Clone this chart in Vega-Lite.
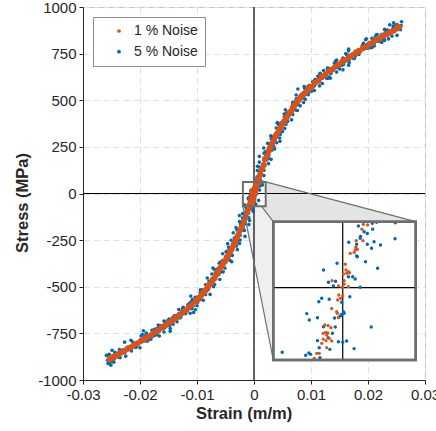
{
"$schema":"https://vega.github.io/schema/vega-lite/v6.json",
"width":342,"height":373,
"autosize":{"type":"none"},
"padding":{"left":83,"top":7,"right":11,"bottom":51},
"config":{
"font":"Liberation Sans",
"view":{"stroke":"#bdbdbd","strokeWidth":1},
"axis":{"labelFont":"Liberation Sans","labelFontSize":15,"labelColor":"#262626","titleFont":"Liberation Sans","titleFontSize":16.5,"titleFontWeight":"bold","titleColor":"#262626","domainColor":"#262626","tickColor":"#262626","tickSize":4,"grid":true,"gridColor":"#d5e1ee","gridDash":[6,4],"gridWidth":1,"labelPadding":3,"labelOverlap":false,"labelFlush":false}
},
"datasets":{
"faceTop":[{"k":1,"e":0.00205,"p":62},{"k":2,"e":0.028368,"p":-151.2},{"k":3,"e":0.003386,"p":-151.2},{"k":4,"e":0.001304,"p":-68},{"k":5,"e":0.00205,"p":-68}],
"faceLeft":[{"k":1,"e":-0.00195,"p":-68},{"k":2,"e":0.001304,"p":-68},{"k":3,"e":0.003386,"p":-151.2},{"k":4,"e":0.003386,"p":-892.8}],
"edges":[{"e":0.00205,"p":62,"e2":0.028368,"p2":-151.2},{"e":0.001304,"p":-68,"e2":0.003386,"p2":-151.2},{"e":-0.00195,"p":-68,"e2":0.003386,"p2":-892.8}],
"box":[{"e":-0.00195,"e2":0.00205,"p":-68,"p2":62}],
"zero":[{"e":0,"p":0}],
"cross":[{"e":0,"e2":0,"p":-68,"p2":62},{"e":-0.00195,"e2":0.00205,"p":0,"p2":0}],
"pts":[
{"n":5,"e":0.00086,"p":79},{"n":5,"e":0.00056,"p":89},{"n":5,"e":0.00123,"p":105},{"n":5,"e":0.00058,"p":123},{"n":5,"e":0.00147,"p":130},{"n":5,"e":0.0006,"p":146},{"n":5,"e":0.00256,"p":160},{"n":5,"e":0.00172,"p":178},{"n":5,"e":0.00258,"p":186},{"n":5,"e":0.00094,"p":199},{"n":5,"e":0.0025,"p":208},{"n":5,"e":0.00196,"p":224},{"n":5,"e":0.00362,"p":239},{"n":5,"e":0.00258,"p":247},{"n":5,"e":0.00344,"p":254},{"n":5,"e":0.0024,"p":269},{"n":5,"e":0.00456,"p":280},{"n":5,"e":0.00302,"p":294},{"n":5,"e":0.00388,"p":300},{"n":5,"e":0.00294,"p":309},{"n":5,"e":0.0046,"p":316},
{"n":5,"e":0.00058,"p":86},{"n":5,"e":0.00174,"p":96},{"n":5,"e":0.0011,"p":115},{"n":5,"e":0.00176,"p":124},{"n":5,"e":0.00092,"p":142},{"n":5,"e":0.00188,"p":150},{"n":5,"e":0.00094,"p":168},{"n":5,"e":0.003,"p":183},{"n":5,"e":0.00176,"p":190},{"n":5,"e":0.00262,"p":207},{"n":5,"e":0.00178,"p":216},{"n":5,"e":0.00314,"p":232},{"n":5,"e":0.0017,"p":244},{"n":5,"e":0.00306,"p":250},{"n":5,"e":0.00272,"p":266},{"n":5,"e":0.00398,"p":272},{"n":5,"e":0.00324,"p":288},{"n":5,"e":0.0045,"p":297},{"n":5,"e":0.00316,"p":302},{"n":5,"e":0.00422,"p":317},
{"n":5,"e":0.0045,"p":324},{"n":5,"e":0.0039,"p":351},{"n":5,"e":0.0054,"p":349},{"n":5,"e":0.0047,"p":378},{"n":5,"e":0.0041,"p":377},{"n":5,"e":0.0056,"p":371},{"n":5,"e":0.0066,"p":395},{"n":5,"e":0.0053,"p":411},{"n":5,"e":0.0058,"p":394},{"n":5,"e":0.0053,"p":426},{"n":5,"e":0.0068,"p":423},{"n":5,"e":0.0066,"p":459},{"n":5,"e":0.0055,"p":449},{"n":5,"e":0.0073,"p":448},{"n":5,"e":0.0068,"p":478},{"n":5,"e":0.0081,"p":470},{"n":5,"e":0.0068,"p":489},{"n":5,"e":0.0077,"p":476},{"n":5,"e":0.0074,"p":508},{"n":5,"e":0.009,"p":505},{"n":5,"e":0.0074,"p":528},{"n":5,"e":0.0087,"p":511},{"n":5,"e":0.0085,"p":531},{"n":5,"e":0.0095,"p":530},{"n":5,"e":0.0077,"p":560},{"n":5,"e":0.0096,"p":540},{"n":5,"e":0.0089,"p":565},{"n":5,"e":0.0098,"p":559},{"n":5,"e":0.0106,"p":552},{"n":5,"e":0.0097,"p":579},{"n":5,"e":0.0095,"p":575},{"n":5,"e":0.0115,"p":599},{"n":5,"e":0.0106,"p":578},{"n":5,"e":0.0106,"p":598},{"n":5,"e":0.0115,"p":609},{"n":5,"e":0.0103,"p":599},{"n":5,"e":0.012,"p":590},{"n":5,"e":0.0112,"p":629},{"n":5,"e":0.0119,"p":623},{"n":5,"e":0.0134,"p":618},{"n":5,"e":0.0116,"p":641},{"n":5,"e":0.0127,"p":619},{"n":5,"e":0.0116,"p":645},{"n":5,"e":0.0135,"p":643},{"n":5,"e":0.0129,"p":672},{"n":5,"e":0.0134,"p":646},{"n":5,"e":0.0129,"p":665},{"n":5,"e":0.0145,"p":651},{"n":5,"e":0.013,"p":671},{"n":5,"e":0.0144,"p":685},{"n":5,"e":0.0139,"p":672},{"n":5,"e":0.0156,"p":663},{"n":5,"e":0.0144,"p":694},{"n":5,"e":0.0154,"p":687},{"n":5,"e":0.0143,"p":710},{"n":5,"e":0.0152,"p":700},{"n":5,"e":0.0157,"p":692},{"n":5,"e":0.0145,"p":715},{"n":5,"e":0.0166,"p":688},{"n":5,"e":0.0156,"p":726},{"n":5,"e":0.0167,"p":717},{"n":5,"e":0.0163,"p":742},{"n":5,"e":0.016,"p":722},{"n":5,"e":0.0178,"p":737},{"n":5,"e":0.0161,"p":750},{"n":5,"e":0.0174,"p":725},{"n":5,"e":0.0181,"p":751},{"n":5,"e":0.0173,"p":748},{"n":5,"e":0.0166,"p":774},{"n":5,"e":0.0184,"p":745},{"n":5,"e":0.0183,"p":770},{"n":5,"e":0.0179,"p":759},{"n":5,"e":0.0195,"p":785},{"n":5,"e":0.0186,"p":763},{"n":5,"e":0.0196,"p":779},{"n":5,"e":0.0184,"p":758},{"n":5,"e":0.0197,"p":795},{"n":5,"e":0.0207,"p":783},{"n":5,"e":0.0192,"p":805},{"n":5,"e":0.02,"p":803},{"n":5,"e":0.0198,"p":784},{"n":5,"e":0.0211,"p":804},{"n":5,"e":0.0196,"p":825},{"n":5,"e":0.021,"p":799},{"n":5,"e":0.0215,"p":818},{"n":5,"e":0.0211,"p":791},{"n":5,"e":0.0207,"p":832},{"n":5,"e":0.0229,"p":821},{"n":5,"e":0.0215,"p":851},{"n":5,"e":0.0224,"p":823},{"n":5,"e":0.0213,"p":841},{"n":5,"e":0.0232,"p":854},{"n":5,"e":0.0227,"p":829},{"n":5,"e":0.0223,"p":849},{"n":5,"e":0.0236,"p":829},{"n":5,"e":0.023,"p":861},{"n":5,"e":0.0244,"p":884},{"n":5,"e":0.0225,"p":848},{"n":5,"e":0.0241,"p":864},{"n":5,"e":0.0234,"p":849},{"n":5,"e":0.0249,"p":877},{"n":5,"e":0.0244,"p":898},{"n":5,"e":0.0242,"p":871},{"n":5,"e":0.0257,"p":893},{"n":5,"e":0.0242,"p":863},{"n":5,"e":0.0254,"p":890},{"n":5,"e":0.0259,"p":921},{"n":5,"e":0.0253,"p":880},{"n":5,"e":0.0245,"p":915},{"n":5,"e":0.0238,"p":905},{"n":5,"e":0.0251,"p":906},{"n":5,"e":0.0229,"p":880},{"n":5,"e":0.0257,"p":878},
{"n":5,"e":0.005,"p":332},{"n":5,"e":0.0044,"p":366},{"n":5,"e":0.0041,"p":381},{"n":5,"e":0.0059,"p":387},{"n":5,"e":0.006,"p":430},{"n":5,"e":0.0057,"p":433},{"n":5,"e":0.0076,"p":445},{"n":5,"e":0.0069,"p":476},{"n":5,"e":0.0087,"p":488},{"n":5,"e":0.0071,"p":490},{"n":5,"e":0.0086,"p":528},{"n":5,"e":0.0082,"p":527},{"n":5,"e":0.0091,"p":562},{"n":5,"e":0.0101,"p":548},{"n":5,"e":0.0088,"p":573},{"n":5,"e":0.0105,"p":579},{"n":5,"e":0.0115,"p":577},{"n":5,"e":0.0107,"p":611},{"n":5,"e":0.0114,"p":625},{"n":5,"e":0.0129,"p":617},{"n":5,"e":0.0116,"p":636},{"n":5,"e":0.0132,"p":624},{"n":5,"e":0.0122,"p":659},{"n":5,"e":0.0138,"p":672},{"n":5,"e":0.015,"p":668},{"n":5,"e":0.014,"p":664},{"n":5,"e":0.0141,"p":700},{"n":5,"e":0.0148,"p":678},{"n":5,"e":0.0158,"p":702},{"n":5,"e":0.0143,"p":699},{"n":5,"e":0.0167,"p":701},{"n":5,"e":0.0165,"p":743},{"n":5,"e":0.0176,"p":724},{"n":5,"e":0.0166,"p":765},{"n":5,"e":0.0175,"p":735},{"n":5,"e":0.0185,"p":761},{"n":5,"e":0.0175,"p":746},{"n":5,"e":0.02,"p":779},{"n":5,"e":0.019,"p":793},{"n":5,"e":0.0191,"p":789},{"n":5,"e":0.0205,"p":782},{"n":5,"e":0.0197,"p":830},{"n":5,"e":0.0219,"p":815},{"n":5,"e":0.0212,"p":825},{"n":5,"e":0.0224,"p":810},{"n":5,"e":0.0216,"p":852},{"n":5,"e":0.0228,"p":832},{"n":5,"e":0.0241,"p":871},{"n":5,"e":0.0225,"p":853},{"n":5,"e":0.0242,"p":844},{"n":5,"e":0.0234,"p":876},{"n":5,"e":0.0251,"p":848},{"n":5,"e":0.0249,"p":902},{"n":5,"e":0.0258,"p":900},
{"n":5,"e":-0.00138,"p":-75},{"n":5,"e":-0.00026,"p":-86},{"n":5,"e":-0.00124,"p":-86},{"n":5,"e":-0.00012,"p":-96},{"n":5,"e":-0.002,"p":-108},{"n":5,"e":-0.00098,"p":-106},{"n":5,"e":-0.00256,"p":-118},{"n":5,"e":-0.00134,"p":-117},{"n":5,"e":-0.00092,"p":-130},{"n":5,"e":-0.002,"p":-130},{"n":5,"e":-0.00078,"p":-145},{"n":5,"e":-0.00186,"p":-146},{"n":5,"e":-0.00254,"p":-151},{"n":5,"e":-0.00152,"p":-162},{"n":5,"e":-0.0009,"p":-166},{"n":5,"e":-0.00238,"p":-167},{"n":5,"e":-0.00196,"p":-180},{"n":5,"e":-0.00314,"p":-182},{"n":5,"e":-0.00182,"p":-196},{"n":5,"e":-0.003,"p":-196},{"n":5,"e":-0.00168,"p":-198},{"n":5,"e":-0.00256,"p":-209},{"n":5,"e":-0.00364,"p":-211},{"n":5,"e":-0.00242,"p":-224},{"n":5,"e":-0.003,"p":-224},{"n":5,"e":-0.00158,"p":-230},{"n":5,"e":-0.00346,"p":-239},{"n":5,"e":-0.00294,"p":-237},{"n":5,"e":-0.00242,"p":-249},{"n":5,"e":-0.004,"p":-251},{"n":5,"e":-0.00288,"p":-255},{"n":5,"e":-0.00366,"p":-268},{"n":5,"e":-0.00254,"p":-268},{"n":5,"e":-0.00462,"p":-269},{"n":5,"e":-0.0034,"p":-279},{"n":5,"e":-0.00308,"p":-281},{"n":5,"e":-0.00386,"p":-291},{"n":5,"e":-0.00444,"p":-287},{"n":5,"e":-0.00292,"p":-301},{"n":5,"e":-0.0044,"p":-301},
{"n":5,"e":-0.0046,"p":-308},{"n":5,"e":-0.0038,"p":-332},{"n":5,"e":-0.0055,"p":-323},{"n":5,"e":-0.0046,"p":-349},{"n":5,"e":-0.0039,"p":-366},{"n":5,"e":-0.0055,"p":-359},{"n":5,"e":-0.0061,"p":-374},{"n":5,"e":-0.0051,"p":-400},{"n":5,"e":-0.0058,"p":-386},{"n":5,"e":-0.0072,"p":-400},{"n":5,"e":-0.0054,"p":-420},{"n":5,"e":-0.0065,"p":-407},{"n":5,"e":-0.0062,"p":-435},{"n":5,"e":-0.0074,"p":-432},{"n":5,"e":-0.006,"p":-461},{"n":5,"e":-0.0074,"p":-458},{"n":5,"e":-0.0082,"p":-453},{"n":5,"e":-0.0073,"p":-485},{"n":5,"e":-0.0071,"p":-500},{"n":5,"e":-0.0085,"p":-489},{"n":5,"e":-0.0081,"p":-504},{"n":5,"e":-0.0094,"p":-529},{"n":5,"e":-0.008,"p":-515},{"n":5,"e":-0.0091,"p":-516},{"n":5,"e":-0.0077,"p":-541},{"n":5,"e":-0.0096,"p":-563},{"n":5,"e":-0.0092,"p":-541},{"n":5,"e":-0.0103,"p":-556},{"n":5,"e":-0.0089,"p":-572},{"n":5,"e":-0.01,"p":-557},{"n":5,"e":-0.0113,"p":-589},{"n":5,"e":-0.0099,"p":-579},{"n":5,"e":-0.0108,"p":-569},{"n":5,"e":-0.01,"p":-602},{"n":5,"e":-0.0116,"p":-597},{"n":5,"e":-0.0109,"p":-618},{"n":5,"e":-0.0115,"p":-601},{"n":5,"e":-0.0125,"p":-617},{"n":5,"e":-0.0106,"p":-638},{"n":5,"e":-0.0124,"p":-614},{"n":5,"e":-0.0116,"p":-625},{"n":5,"e":-0.0127,"p":-640},{"n":5,"e":-0.0125,"p":-619},{"n":5,"e":-0.0136,"p":-655},{"n":5,"e":-0.012,"p":-645},{"n":5,"e":-0.0137,"p":-670},{"n":5,"e":-0.0132,"p":-645},{"n":5,"e":-0.0129,"p":-666},{"n":5,"e":-0.015,"p":-690},{"n":5,"e":-0.0136,"p":-665},{"n":5,"e":-0.0143,"p":-666},{"n":5,"e":-0.0135,"p":-688},{"n":5,"e":-0.0152,"p":-683},{"n":5,"e":-0.0148,"p":-709},{"n":5,"e":-0.0145,"p":-679},{"n":5,"e":-0.0162,"p":-708},{"n":5,"e":-0.0151,"p":-702},{"n":5,"e":-0.0158,"p":-684},{"n":5,"e":-0.0147,"p":-724},{"n":5,"e":-0.0167,"p":-709},{"n":5,"e":-0.0158,"p":-723},{"n":5,"e":-0.0168,"p":-705},{"n":5,"e":-0.0158,"p":-743},{"n":5,"e":-0.0169,"p":-723},{"n":5,"e":-0.0179,"p":-733},{"n":5,"e":-0.0166,"p":-764},{"n":5,"e":-0.0172,"p":-732},{"n":5,"e":-0.0189,"p":-754},{"n":5,"e":-0.0173,"p":-727},{"n":5,"e":-0.0183,"p":-765},{"n":5,"e":-0.0175,"p":-763},{"n":5,"e":-0.0189,"p":-748},{"n":5,"e":-0.0186,"p":-788},{"n":5,"e":-0.0178,"p":-766},{"n":5,"e":-0.0198,"p":-764},{"n":5,"e":-0.0189,"p":-791},{"n":5,"e":-0.0196,"p":-756},{"n":5,"e":-0.0187,"p":-791},{"n":5,"e":-0.0204,"p":-807},{"n":5,"e":-0.0199,"p":-786},{"n":5,"e":-0.0213,"p":-796},{"n":5,"e":-0.02,"p":-827},{"n":5,"e":-0.02,"p":-791},{"n":5,"e":-0.0211,"p":-802},{"n":5,"e":-0.0217,"p":-831},{"n":5,"e":-0.02,"p":-795},{"n":5,"e":-0.0215,"p":-826},{"n":5,"e":-0.0214,"p":-823},{"n":5,"e":-0.0227,"p":-797},{"n":5,"e":-0.0215,"p":-844},{"n":5,"e":-0.0226,"p":-844},{"n":5,"e":-0.0216,"p":-820},{"n":5,"e":-0.0236,"p":-837},{"n":5,"e":-0.0225,"p":-872},{"n":5,"e":-0.023,"p":-838},{"n":5,"e":-0.0238,"p":-855},{"n":5,"e":-0.0223,"p":-831},{"n":5,"e":-0.0238,"p":-874},{"n":5,"e":-0.0234,"p":-855},{"n":5,"e":-0.0248,"p":-887},{"n":5,"e":-0.0235,"p":-856},{"n":5,"e":-0.0249,"p":-841},{"n":5,"e":-0.0245,"p":-887},{"n":5,"e":-0.0239,"p":-876},{"n":5,"e":-0.0253,"p":-908},{"n":5,"e":-0.0259,"p":-868},{"n":5,"e":-0.0248,"p":-898},{"n":5,"e":-0.0257,"p":-867},{"n":5,"e":-0.0256,"p":-912},{"n":5,"e":-0.0251,"p":-921},{"n":5,"e":-0.0246,"p":-905},
{"n":5,"e":-0.0049,"p":-313},{"n":5,"e":-0.0045,"p":-350},{"n":5,"e":-0.0042,"p":-359},{"n":5,"e":-0.0059,"p":-368},{"n":5,"e":-0.007,"p":-406},{"n":5,"e":-0.0058,"p":-422},{"n":5,"e":-0.0067,"p":-423},{"n":5,"e":-0.0079,"p":-469},{"n":5,"e":-0.0072,"p":-467},{"n":5,"e":-0.0069,"p":-488},{"n":5,"e":-0.0085,"p":-526},{"n":5,"e":-0.0094,"p":-516},{"n":5,"e":-0.0085,"p":-542},{"n":5,"e":-0.0094,"p":-568},{"n":5,"e":-0.0111,"p":-550},{"n":5,"e":-0.0099,"p":-585},{"n":5,"e":-0.011,"p":-581},{"n":5,"e":-0.0103,"p":-623},{"n":5,"e":-0.0124,"p":-610},{"n":5,"e":-0.0117,"p":-616},{"n":5,"e":-0.0112,"p":-642},{"n":5,"e":-0.0132,"p":-622},{"n":5,"e":-0.0132,"p":-667},{"n":5,"e":-0.0128,"p":-657},{"n":5,"e":-0.0149,"p":-673},{"n":5,"e":-0.014,"p":-656},{"n":5,"e":-0.0142,"p":-701},{"n":5,"e":-0.0157,"p":-703},{"n":5,"e":-0.0155,"p":-690},{"n":5,"e":-0.0147,"p":-739},{"n":5,"e":-0.0167,"p":-712},{"n":5,"e":-0.0175,"p":-729},{"n":5,"e":-0.017,"p":-758},{"n":5,"e":-0.0166,"p":-733},{"n":5,"e":-0.0181,"p":-763},{"n":5,"e":-0.0194,"p":-736},{"n":5,"e":-0.0181,"p":-781},{"n":5,"e":-0.0194,"p":-782},{"n":5,"e":-0.0191,"p":-766},{"n":5,"e":-0.0206,"p":-816},{"n":5,"e":-0.0193,"p":-791},{"n":5,"e":-0.0208,"p":-824},{"n":5,"e":-0.0216,"p":-787},{"n":5,"e":-0.0207,"p":-825},{"n":5,"e":-0.0232,"p":-856},{"n":5,"e":-0.0221,"p":-824},{"n":5,"e":-0.0221,"p":-826},{"n":5,"e":-0.0235,"p":-881},{"n":5,"e":-0.0244,"p":-851},{"n":5,"e":-0.0236,"p":-878},{"n":5,"e":-0.0236,"p":-846},{"n":5,"e":-0.0249,"p":-900},{"n":5,"e":-0.0257,"p":-894},{"n":5,"e":-0.0254,"p":-862},
{"n":5,"e":0.0003,"p":69},{"n":5,"e":0.0011,"p":73},{"n":5,"e":-0.0013,"p":-71},{"n":5,"e":-0.0004,"p":-74},
{"n":5,"e":0.00044,"p":58},{"n":5,"e":0.00083,"p":60.5},{"n":5,"e":0.00095,"p":61.4},{"n":5,"e":0.00148,"p":61},{"n":5,"e":0.0006,"p":52.6},{"n":5,"e":0.00084,"p":55},{"n":5,"e":0.00069,"p":51},{"n":5,"e":0.0005,"p":48},{"n":5,"e":0.00049,"p":46.4},{"n":5,"e":0.00017,"p":42.6},{"n":5,"e":0.00039,"p":40.7},{"n":5,"e":0.00069,"p":40.7},{"n":5,"e":0.00088,"p":43.2},{"n":5,"e":0.00106,"p":40.1},{"n":5,"e":0.00081,"p":37},{"n":5,"e":0.00147,"p":46},{"n":5,"e":0.00039,"p":29.8},{"n":5,"e":0.00041,"p":29},{"n":5,"e":0.00064,"p":24.4},{"n":5,"e":-0.00016,"p":23},{"n":5,"e":-0.00054,"p":16.6},{"n":5,"e":0.00098,"p":18.2},{"n":5,"e":0.00016,"p":10.3},{"n":5,"e":0.00028,"p":10.3},{"n":5,"e":0.00035,"p":8.1},{"n":5,"e":-0.0002,"p":6},{"n":5,"e":-0.0004,"p":5},{"n":5,"e":-0.00026,"p":1.6},{"n":5,"e":0.00049,"p":0.3},{"n":5,"e":-0.00038,"p":-11},{"n":5,"e":-0.00059,"p":-10},{"n":5,"e":-0.00067,"p":-13.2},{"n":5,"e":0.0002,"p":-8.5},{"n":5,"e":-0.00003,"p":-13.8},{"n":5,"e":-0.00101,"p":-24.4},{"n":5,"e":-0.00094,"p":-30.4},{"n":5,"e":-0.00071,"p":-28.2},{"n":5,"e":0.00002,"p":-22.6},{"n":5,"e":0.00004,"p":-24.1},{"n":5,"e":-0.00003,"p":-25.1},{"n":5,"e":-0.00006,"p":-26.3},{"n":5,"e":-0.00011,"p":-27.9},{"n":5,"e":-0.00023,"p":-28.5},{"n":5,"e":0.0008,"p":-37},{"n":5,"e":-0.00054,"p":-36.7},{"n":5,"e":-0.00021,"p":-37},{"n":5,"e":-0.00029,"p":-42.9},{"n":5,"e":-0.00041,"p":-47},{"n":5,"e":-0.00071,"p":-49.8},{"n":5,"e":-0.00012,"p":-50.8},{"n":5,"e":0.0,"p":-51.4},{"n":5,"e":0.00011,"p":-50.1},{"n":5,"e":-0.00066,"p":-56.4},{"n":5,"e":-0.00036,"p":-58},{"n":5,"e":0.00032,"p":-57.3},{"n":5,"e":-0.0017,"p":-60.8},{"n":5,"e":-0.00095,"p":-61.4},{"n":5,"e":-0.00104,"p":-63.6},{"n":5,"e":-0.0009,"p":-62.7},{"n":5,"e":-0.00064,"p":-65.8},
{"n":1,"e":0.0007,"p":68},{"n":1,"e":0.0008,"p":78},{"n":1,"e":0.0011,"p":102},{"n":1,"e":0.0014,"p":131},{"n":1,"e":0.0017,"p":153},{"n":1,"e":0.002,"p":183},{"n":1,"e":0.0023,"p":202},{"n":1,"e":0.0026,"p":229},{"n":1,"e":0.0029,"p":247},{"n":1,"e":0.0032,"p":271},{"n":1,"e":0.0035,"p":287},{"n":1,"e":0.0038,"p":309},{"n":1,"e":0.0041,"p":323},{"n":1,"e":0.0044,"p":343},{"n":1,"e":0.0047,"p":355},{"n":1,"e":0.005,"p":375},{"n":1,"e":0.0053,"p":386},{"n":1,"e":0.0056,"p":405},{"n":1,"e":0.0059,"p":415},{"n":1,"e":0.0062,"p":432},{"n":1,"e":0.0065,"p":441},{"n":1,"e":0.0068,"p":461},{"n":1,"e":0.0071,"p":472},{"n":1,"e":0.0074,"p":488},{"n":1,"e":0.0077,"p":496},{"n":1,"e":0.008,"p":508},{"n":1,"e":0.0083,"p":520},{"n":1,"e":0.0086,"p":529},{"n":1,"e":0.0089,"p":537},{"n":1,"e":0.0092,"p":547},{"n":1,"e":0.0095,"p":558},{"n":1,"e":0.0098,"p":565},{"n":1,"e":0.0101,"p":573},{"n":1,"e":0.0107,"p":594},{"n":1,"e":0.0113,"p":606},{"n":1,"e":0.0119,"p":625},{"n":1,"e":0.0125,"p":636},{"n":1,"e":0.0131,"p":654},{"n":1,"e":0.0137,"p":665},{"n":1,"e":0.0143,"p":681},{"n":1,"e":0.0149,"p":691},{"n":1,"e":0.0155,"p":707},{"n":1,"e":0.0161,"p":717},{"n":1,"e":0.0167,"p":732},{"n":1,"e":0.0173,"p":741},{"n":1,"e":0.0179,"p":757},{"n":1,"e":0.0185,"p":765},{"n":1,"e":0.0191,"p":779},{"n":1,"e":0.0197,"p":788},{"n":1,"e":0.0203,"p":802},{"n":1,"e":0.0209,"p":810},{"n":1,"e":0.0215,"p":824},{"n":1,"e":0.0221,"p":831},{"n":1,"e":0.0227,"p":845},{"n":1,"e":0.0233,"p":853},{"n":1,"e":0.0239,"p":866},{"n":1,"e":0.0245,"p":874},{"n":1,"e":0.0251,"p":887},{"n":1,"e":0.0254,"p":892},
{"n":1,"e":-0.00085,"p":-72},{"n":1,"e":-0.0009,"p":-80},{"n":1,"e":-0.0012,"p":-101},{"n":1,"e":-0.0015,"p":-129},{"n":1,"e":-0.0018,"p":-150},{"n":1,"e":-0.0021,"p":-176},{"n":1,"e":-0.0024,"p":-195},{"n":1,"e":-0.0027,"p":-220},{"n":1,"e":-0.003,"p":-237},{"n":1,"e":-0.0033,"p":-261},{"n":1,"e":-0.0036,"p":-276},{"n":1,"e":-0.0039,"p":-298},{"n":1,"e":-0.0042,"p":-311},{"n":1,"e":-0.0045,"p":-332},{"n":1,"e":-0.0048,"p":-344},{"n":1,"e":-0.0051,"p":-363},{"n":1,"e":-0.0054,"p":-374},{"n":1,"e":-0.0057,"p":-392},{"n":1,"e":-0.006,"p":-402},{"n":1,"e":-0.0063,"p":-420},{"n":1,"e":-0.0066,"p":-431},{"n":1,"e":-0.0069,"p":-453},{"n":1,"e":-0.0072,"p":-463},{"n":1,"e":-0.0075,"p":-480},{"n":1,"e":-0.0078,"p":-488},{"n":1,"e":-0.0081,"p":-501},{"n":1,"e":-0.0084,"p":-516},{"n":1,"e":-0.0087,"p":-525},{"n":1,"e":-0.009,"p":-535},{"n":1,"e":-0.0093,"p":-547},{"n":1,"e":-0.0096,"p":-559},{"n":1,"e":-0.0099,"p":-569},{"n":1,"e":-0.0102,"p":-576},{"n":1,"e":-0.0108,"p":-596},{"n":1,"e":-0.0114,"p":-609},{"n":1,"e":-0.012,"p":-627},{"n":1,"e":-0.0126,"p":-639},{"n":1,"e":-0.0132,"p":-656},{"n":1,"e":-0.0138,"p":-667},{"n":1,"e":-0.0144,"p":-683},{"n":1,"e":-0.015,"p":-694},{"n":1,"e":-0.0156,"p":-709},{"n":1,"e":-0.0162,"p":-719},{"n":1,"e":-0.0168,"p":-734},{"n":1,"e":-0.0174,"p":-744},{"n":1,"e":-0.018,"p":-759},{"n":1,"e":-0.0186,"p":-767},{"n":1,"e":-0.0192,"p":-781},{"n":1,"e":-0.0198,"p":-790},{"n":1,"e":-0.0204,"p":-803},{"n":1,"e":-0.021,"p":-811},{"n":1,"e":-0.0216,"p":-825},{"n":1,"e":-0.0222,"p":-833},{"n":1,"e":-0.0228,"p":-847},{"n":1,"e":-0.0234,"p":-854},{"n":1,"e":-0.024,"p":-867},{"n":1,"e":-0.0246,"p":-875},{"n":1,"e":-0.025,"p":-884},{"n":1,"e":-0.0253,"p":-889},
{"n":1,"e":0.00058,"p":59.5},{"n":1,"e":0.0007,"p":59},{"n":1,"e":0.00054,"p":55},{"n":1,"e":0.00057,"p":44.2},{"n":1,"e":0.00038,"p":44.2},{"n":1,"e":0.00037,"p":38},{"n":1,"e":0.00035,"p":35.4},{"n":1,"e":0.00041,"p":36},{"n":1,"e":0.00021,"p":32.3},{"n":1,"e":0.00032,"p":33},{"n":1,"e":0.00007,"p":22},{"n":1,"e":0.00009,"p":16.6},{"n":1,"e":0.00016,"p":15},{"n":1,"e":0.00019,"p":14},{"n":1,"e":0.00011,"p":13.5},{"n":1,"e":0.00002,"p":12.8},{"n":1,"e":0.00004,"p":6.6},{"n":1,"e":-0.0003,"p":6.6},{"n":1,"e":-0.00012,"p":1.6},{"n":1,"e":-0.00001,"p":0.3},{"n":1,"e":0.00004,"p":3.4},{"n":1,"e":0.00016,"p":0.9},{"n":1,"e":-0.00011,"p":-6.9},{"n":1,"e":0.0,"p":-7.5},{"n":1,"e":-0.00006,"p":-10},{"n":1,"e":-0.00014,"p":-11.6},{"n":1,"e":-0.00031,"p":-19.7},{"n":1,"e":-0.00017,"p":-22.6},{"n":1,"e":-0.00015,"p":-24.1},{"n":1,"e":-0.00012,"p":-28.2},{"n":1,"e":-0.0005,"p":-35.1},{"n":1,"e":-0.00041,"p":-35.7},{"n":1,"e":-0.00033,"p":-37.6},{"n":1,"e":-0.00048,"p":-42},{"n":1,"e":-0.00042,"p":-42.6},{"n":1,"e":-0.00055,"p":-42.9},{"n":1,"e":-0.00045,"p":-44.5},{"n":1,"e":-0.00038,"p":-47.6},{"n":1,"e":-0.00055,"p":-48.3},{"n":1,"e":-0.00047,"p":-49.8},{"n":1,"e":-0.00031,"p":-50.1},{"n":1,"e":-0.00059,"p":-52.3},{"n":1,"e":-0.00045,"p":-56.4},{"n":1,"e":-0.00073,"p":-61.7},{"n":1,"e":-0.00066,"p":-61.7},{"n":1,"e":-0.0008,"p":-66.4}
]
},
"layer":[
{"layer":[
{"data":{"name":"faceTop"},"mark":{"type":"line","fill":"#e4e4e4","strokeOpacity":0},
 "encoding":{
  "x":{"field":"e","type":"quantitative","scale":{"domain":[-0.03,0.03],"nice":false,"zero":false},
   "axis":{"title":"Strain (m/m)","values":[-0.03,-0.02,-0.01,0,0.01,0.02,0.03],"labelExpr":"'' + datum.value","titleX":160.5,"titleY":38,"titleBaseline":"alphabetic"}},
  "y":{"field":"p","type":"quantitative","scale":{"domain":[-1000,1000],"nice":false,"zero":false},
   "axis":{"title":"Stress (MPa)","values":[-1000,-750,-500,-250,0,250,500,750,1000],"labelExpr":"'' + datum.value","titleX":-55.5,"titleY":195.5,"titleBaseline":"alphabetic"}},
  "order":{"field":"k","type":"quantitative"}}},
{"data":{"name":"faceLeft"},"mark":{"type":"line","fill":"#efefef","strokeOpacity":0},
 "encoding":{"x":{"field":"e","type":"quantitative"},"y":{"field":"p","type":"quantitative"},"order":{"field":"k","type":"quantitative"}}},
{"data":{"name":"zero"},"mark":{"type":"rule","color":"#000000","strokeWidth":1.2},"encoding":{"x":{"field":"e","type":"quantitative"}}},
{"data":{"name":"zero"},"mark":{"type":"rule","color":"#000000","strokeWidth":1.2},"encoding":{"y":{"field":"p","type":"quantitative"}}},
{"data":{"name":"pts"},"transform":[{"filter":"datum.n == 5"}],"mark":{"type":"point","filled":true,"size":13,"opacity":1},
 "encoding":{"x":{"field":"e","type":"quantitative"},"y":{"field":"p","type":"quantitative"},
  "color":{"field":"n","type":"nominal","scale":{"domain":[1,5],"range":["#D95319","#0068B0"]},
   "legend":{"title":null,"orient":"top-left","offset":9.5,"padding":7,"rowPadding":6.7,"symbolOffset":12,"labelOffset":8,"strokeColor":"#8c8c8c","fillColor":"#ffffff","labelFont":"Liberation Sans","labelFontSize":14,"labelColor":"#262626","symbolSize":14,"symbolType":"circle","symbolStrokeWidth":0,"labelExpr":"datum.label + ' % Noise'"}}}},
{"data":{"name":"pts"},"transform":[{"filter":"datum.n == 1"}],"mark":{"type":"point","filled":true,"size":38,"opacity":1},
 "encoding":{"x":{"field":"e","type":"quantitative"},"y":{"field":"p","type":"quantitative"},"color":{"field":"n","type":"nominal"}}},
{"data":{"name":"box"},"mark":{"type":"rect","fillOpacity":0,"stroke":"#6e6e6e","strokeWidth":2},
 "encoding":{"x":{"field":"e","type":"quantitative"},"x2":{"field":"e2"},"y":{"field":"p","type":"quantitative"},"y2":{"field":"p2"}}},
{"data":{"name":"edges"},"mark":{"type":"rule","color":"#6e6e6e","strokeWidth":1.2},
 "encoding":{"x":{"field":"e","type":"quantitative"},"x2":{"field":"e2"},"y":{"field":"p","type":"quantitative"},"y2":{"field":"p2"}}}
]},
{"layer":[
{"data":{"name":"box"},"mark":{"type":"rect","fill":"#ffffff","stroke":"#6e6e6e","strokeWidth":2.5},
 "encoding":{"x":{"field":"e","type":"quantitative","scale":{"domain":[-0.007296,0.002311],"nice":false,"zero":false},"axis":null},"x2":{"field":"e2"},
  "y":{"field":"p","type":"quantitative","scale":{"domain":[-86.8,263.8],"nice":false,"zero":false},"axis":null},"y2":{"field":"p2"}}},
{"data":{"name":"cross"},"mark":{"type":"rule","color":"#000000","strokeWidth":1.2},
 "encoding":{"x":{"field":"e","type":"quantitative"},"x2":{"field":"e2"},"y":{"field":"p","type":"quantitative"},"y2":{"field":"p2"}}},
{"data":{"name":"pts"},"transform":[{"filter":"datum.n == 5 && datum.e >= -0.00195 && datum.e <= 0.00205 && datum.p >= -68 && datum.p <= 62"}],"mark":{"type":"point","filled":true,"size":12,"opacity":1,"color":"#0068B0"},
 "encoding":{"x":{"field":"e","type":"quantitative"},"y":{"field":"p","type":"quantitative"}}},
{"data":{"name":"pts"},"transform":[{"filter":"datum.n == 1 && datum.e >= -0.00195 && datum.e <= 0.00205 && datum.p >= -68 && datum.p <= 62"}],"mark":{"type":"point","filled":true,"size":11,"opacity":1,"color":"#D95319"},
 "encoding":{"x":{"field":"e","type":"quantitative"},"y":{"field":"p","type":"quantitative"}}},
{"data":{"name":"box"},"mark":{"type":"rect","fillOpacity":0,"stroke":"#6e6e6e","strokeWidth":2.5},
 "encoding":{"x":{"field":"e","type":"quantitative"},"x2":{"field":"e2"},"y":{"field":"p","type":"quantitative"},"y2":{"field":"p2"}}}
]}
],
"resolve":{"scale":{"x":"independent","y":"independent"}}
}
